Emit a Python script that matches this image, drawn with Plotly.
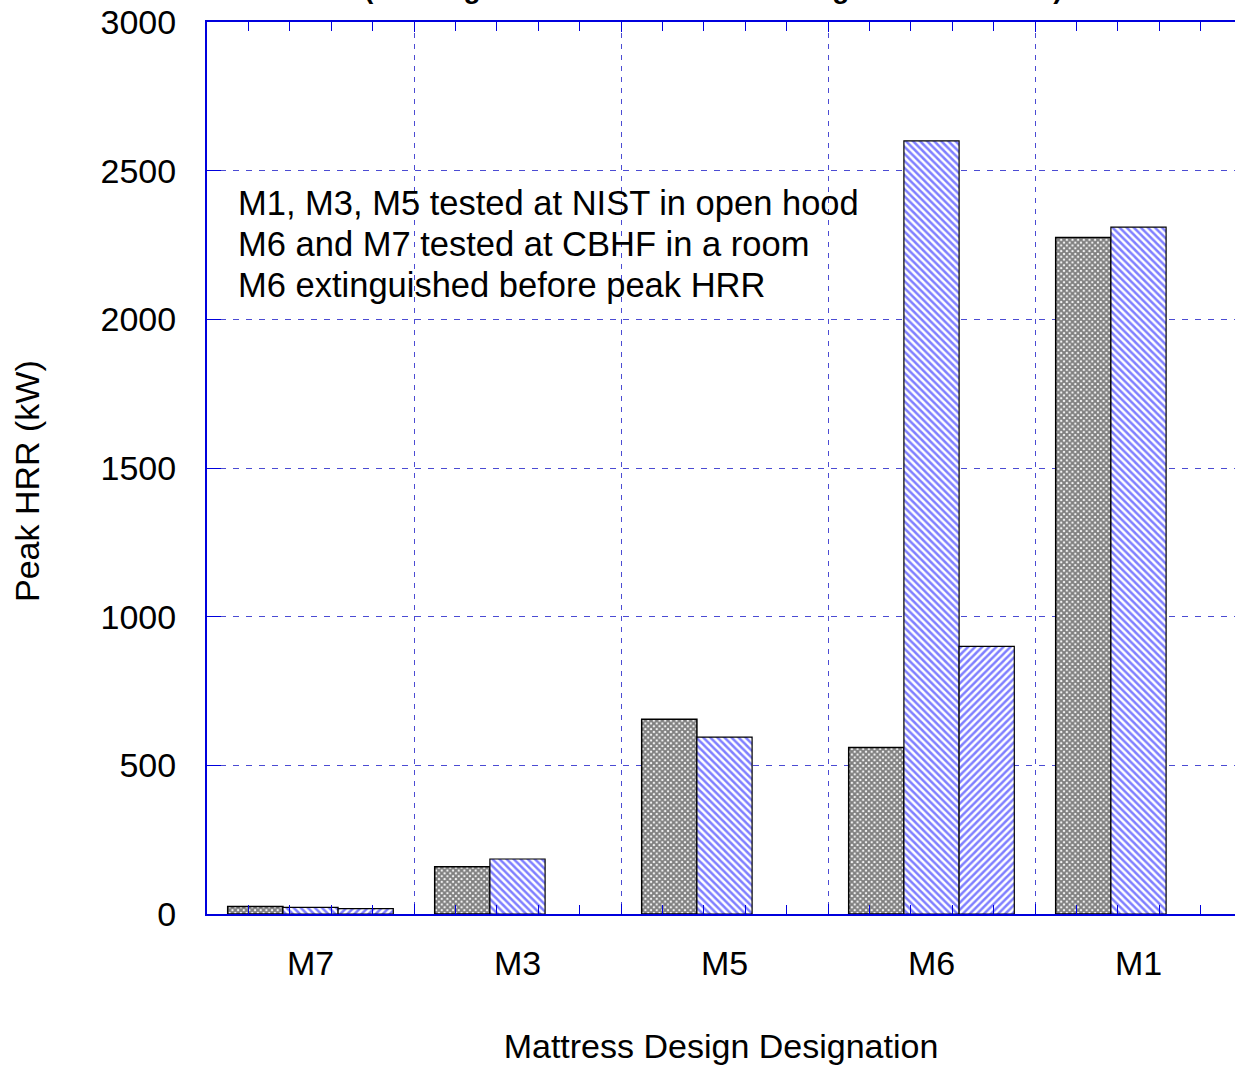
import plotly.graph_objects as go

# Mattress designs and peak heat release rate per test (kW)
categories = ["M7", "M3", "M5", "M6", "M1"]
test_1 = [25, 159, 655, 560, 2275]
test_2 = [22, 185, 595, 2600, 2310]
test_3 = [18, None, None, 900, None]

y_ticks = [0, 500, 1000, 1500, 2000, 2500, 3000]

notes = [
    "M1, M3, M5 tested at NIST in open hood",
    "M6 and M7 tested at CBHF in a room",
    "M6 extinguished before peak HRR",
]
title_line = "(Burning Behavior of Mattress Designs at Full Scale)"

FONT = "Liberation Sans, Arial, sans-serif"
AXIS_BLUE = "#0000dd"
GRID_BLUE = "rgba(30,30,200,0.8)"

xs = list(range(len(categories)))

fig = go.Figure()

fig.add_trace(go.Bar(
    x=xs, y=test_1, name="Test 1",
    marker=dict(
        color="white",
        line=dict(color="black", width=1.5),
        pattern=dict(shape="x", fgcolor="black", bgcolor="white", size=4, solidity=0.75),
    ),
))
fig.add_trace(go.Bar(
    x=xs, y=test_2, name="Test 2",
    marker=dict(
        color="white",
        line=dict(color="black", width=1.2),
        pattern=dict(shape="\\", fgcolor="#0000ff", bgcolor="white", size=5, solidity=0.5),
    ),
))
fig.add_trace(go.Bar(
    x=xs, y=test_3, name="Test 3",
    marker=dict(
        color="white",
        line=dict(color="black", width=1.2),
        pattern=dict(shape="/", fgcolor="#0000ff", bgcolor="white", size=5, solidity=0.5),
    ),
))

x_range = [-0.5, len(categories) - 0.5 - 7 / 207]

fig.update_layout(
    width=1235,
    height=1068,
    margin=dict(l=207, r=0, t=22, b=154, pad=0),
    paper_bgcolor="white",
    plot_bgcolor="white",
    showlegend=False,
    barmode="group",
    bargap=0.2,
    bargroupgap=0,
    font=dict(family=FONT, size=34, color="black"),
    xaxis=dict(
        range=x_range,
        tickmode="linear",
        tick0=-0.5,
        dtick=1,
        showticklabels=False,
        ticks="inside",
        ticklen=10,
        tickwidth=1,
        tickcolor=AXIS_BLUE,
        showgrid=True,
        gridcolor=GRID_BLUE,
        gridwidth=1,
        griddash="5px,6px",
        showline=True,
        linecolor=AXIS_BLUE,
        linewidth=2,
        mirror="allticks",
        zeroline=False,
        minor=dict(
            tickmode="linear",
            tick0=-0.5,
            dtick=0.2,
            ticks="inside",
            ticklen=9,
            tickwidth=1,
            tickcolor=AXIS_BLUE,
            showgrid=False,
        ),
    ),
    xaxis2=dict(
        overlaying="x",
        matches="x",
        anchor="y",
        side="bottom",
        range=x_range,
        tickmode="array",
        tickvals=xs,
        ticktext=categories,
        ticks="",
        ticklabelstandoff=26,
        tickfont=dict(family=FONT, size=34, color="black"),
        showgrid=False,
        showline=False,
        zeroline=False,
        title=dict(text="Mattress Design Designation",
                   font=dict(family=FONT, size=34, color="black"),
                   standoff=53),
    ),
    yaxis=dict(
        range=[0, 3000],
        tickmode="array",
        tickvals=y_ticks,
        ticks="inside",
        ticklen=14,
        tickwidth=1,
        tickcolor=AXIS_BLUE,
        ticklabelstandoff=22,
        tickfont=dict(family=FONT, size=34, color="black"),
        showgrid=True,
        gridcolor=GRID_BLUE,
        gridwidth=1,
        griddash="6px,7px",
        showline=True,
        linecolor=AXIS_BLUE,
        linewidth=2,
        zeroline=False,
    ),
)

# Empty trace so the label axis is rendered
fig.add_trace(go.Scatter(x=[xs[0]], y=[None], xaxis="x2", yaxis="y",
                         mode="markers", showlegend=False, hoverinfo="skip"))

# Y axis title, placed by pixel position
fig.add_annotation(
    text="Peak HRR (kW)",
    xref="paper", yref="paper",
    x=(27 - 207) / 1028, y=1 - (481 - 22) / 892,
    xanchor="center", yanchor="middle",
    textangle=-90,
    showarrow=False,
    font=dict(family=FONT, size=34, color="black"),
)

# Explanatory note block, one line per annotation
note_centers = [203, 244, 285]
for line, yc in zip(notes, note_centers):
    fig.add_annotation(
        text=line,
        xref="paper", yref="paper",
        x=(236 - 207) / 1028, y=1 - (yc - 22) / 892,
        xanchor="left", yanchor="middle",
        showarrow=False,
        font=dict(family=FONT, size=34.5, color="black"),
    )

# Title line
fig.add_annotation(
    text="<b>" + title_line + "</b>",
    xref="paper", yref="paper",
    x=(713 - 207) / 1028, y=1 + (22 - 6) / 892,
    xanchor="center", yanchor="bottom",
    showarrow=False,
    font=dict(family=FONT, size=28, color="black"),
)

fig.write_html("out.html")
